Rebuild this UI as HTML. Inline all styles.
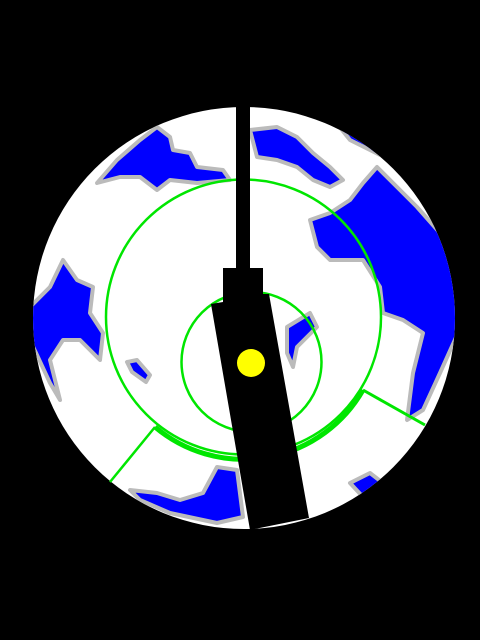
<!DOCTYPE html>
<html><head><meta charset="utf-8">
<style>html,body{margin:0;padding:0;background:#000;}svg{display:block}</style>
</head><body>
<svg width="480" height="640" viewBox="0 0 480 640" xmlns="http://www.w3.org/2000/svg">
<defs><clipPath id="sky"><circle cx="244" cy="318" r="211"/></clipPath></defs>
<rect width="480" height="640" fill="#000"/>
<circle cx="244" cy="318" r="211" fill="#fff"/>
<g clip-path="url(#sky)" fill="#0000ff" stroke="#bbbbbb" stroke-width="4" stroke-linejoin="round">
<polygon points="97,183 117,160 140,140 157,127 170,137 173,150 190,153 197,167 223,170 230,180 197,183 170,180 157,190 140,177 120,177"/>
<polygon points="250,130 277,127 297,137 313,153 330,167 343,180 330,187 313,180 297,167 277,160 257,157"/>
<polygon points="310,220 330,213 350,200 363,183 377,167 397,187 417,207 440,233 460,287 458,333 440,373 423,410 407,420 413,373 423,333 403,320 383,313 380,287 363,260 330,260 317,247"/>
<polygon points="30,307 50,287 63,260 77,280 93,287 90,313 103,333 100,360 80,340 63,340 50,360 60,400 50,383 30,340"/>
<polygon points="130,490 157,493 180,500 203,493 217,467 237,470 243,517 217,523 170,513 140,500"/>
<polygon points="350,483 370,473 383,483 363,497"/>
<polygon points="287,327 310,313 317,327 297,347 293,367 287,353"/>
<polygon points="127,362 137,360 150,375 146,382 132,372"/>
<polygon points="330,115 370,130 395,150 380,155 350,140"/>
</g>
<g fill="none" stroke="#00e600">
<circle cx="243.5" cy="317" r="137.5" stroke-width="2.5"/>
<circle cx="251.5" cy="362" r="70" stroke-width="2.5"/>
<path d="M155,427 A137.5,137.5 0 0 0 363,390" stroke-width="5"/>
<line x1="155" y1="427" x2="110" y2="482" stroke-width="2.5"/>
<line x1="363" y1="390" x2="425" y2="425" stroke-width="3"/>
</g>
<polygon fill="#000" points="236,100 250,100 250,268 263,268 263,294 269,294 309,518 250,530 211,304 223,302 223,268 236,268"/>
<circle cx="251" cy="363" r="14" fill="#ffff00"/>
</svg>
</body></html>
